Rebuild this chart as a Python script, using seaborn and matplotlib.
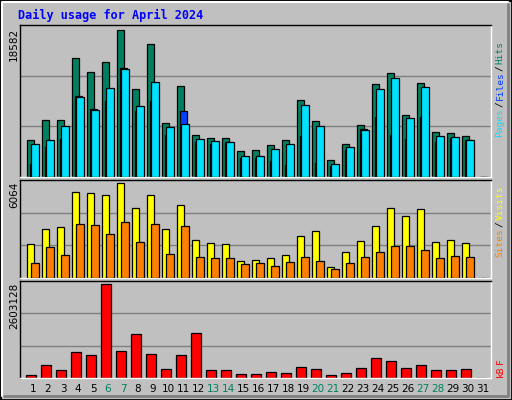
import matplotlib
matplotlib.use("Agg")
import matplotlib.pyplot as plt
import seaborn as sns
import numpy as np

days = list(range(1, 32))
hits = [4678,7206,7206,15044,13274,14538,18582,11125,16814,6827,11504,5310,4930,4930,3287,3413,4045,4678,9734,7080,2149,4172,6574,11757,13148,7838,11883,5689,5562,5183,0]
files = [4172,4678,6447,10114,8470,11251,13653,8976,12010,6321,6700,4804,4551,4425,2655,2655,3540,4172,9102,6447,1643,3793,5942,11125,12516,7459,11378,5183,5057,4678,0]
pages = [1643,3793,4804,10240,8597,9608,13780,8344,9608,5310,8344,4425,4172,4425,2402,2402,2023,1517,5183,1770,1391,3413,6068,7585,5310,4804,7585,4425,4930,4678,0]
visits = [2175,3164,3296,5537,5471,5339,6064,4482,5339,3164,4680,2439,2241,2175,1120,1186,1252,1450,2702,3032,725,1648,2373,3361,4482,3955,4416,2307,2439,2241,0]
sites = [989,1977,1450,3493,3427,2834,3559,2307,3493,1516,3361,1318,1252,1252,923,989,791,1055,1318,1120,593,989,1318,1648,2043,2043,1780,1252,1384,1318,0]
kbytes = [95005,351519,209011,722038,636534,2603128,750540,1235065,665035,237513,636534,1263567,209011,209011,123507,123507,180510,152008,294516,237513,95005,152008,266014,551029,465525,266014,351519,209011,209011,237513,0]
weekend = [6, 7, 13, 14, 20, 21, 27, 28]
title = "Daily usage for April 2024"

sns.set_theme(style="white")
plt.rcParams['font.family'] = ['DejaVu Sans Mono', 'DejaVu Sans']

BG = "#c0c0c0"
fig = plt.figure(figsize=(5.12, 4.0), dpi=100, facecolor=BG)
W, H = 512, 400

def px_axes(l, t, r, b):
    return fig.add_axes([l / W, 1 - b / H, (r - l) / W, (b - t) / H])

fig.patches.append(plt.Rectangle((0, 0), 1, 1, transform=fig.transFigure, fill=False,
                                 edgecolor="black", lw=2))
fig.add_artist(plt.Line2D([2/W, 2/W, 1-4/W], [4/H, 1-2/H, 1-2/H], transform=fig.transFigure, color="white", lw=1.5))
fig.add_artist(plt.Line2D([4/W, 1-4/W, 1-4/W], [4/H, 4/H, 1-4/H], transform=fig.transFigure, color="#808080", lw=2))

xmin, xmax = 0.133, 31.53
d = np.array(days, dtype=float)
ax1 = px_axes(20, 25, 491, 177)
ax2 = px_axes(20, 180, 491, 278)
ax3 = px_axes(20, 281, 491, 378)

def style(ax, maxv, label, ytop):
    ax.set_facecolor(BG)
    ax.set_xlim(xmin, xmax)
    top = maxv / 0.965
    ax.set_ylim(0, top)
    for f in (1/3, 2/3):
        ax.axhline(top * f, color="#808080", lw=1, zorder=0)
    ax.set_xticks([]); ax.set_yticks([])
    for s in ("left", "top"):
        ax.spines[s].set_color("black")
    for s in ("right", "bottom"):
        ax.spines[s].set_color("white")
    for s in ax.spines.values():
        s.set_linewidth(1)
    fig.text(14 / W, 1 - ytop / H, label, rotation=90, ha="center", va="top",
             fontsize=7.5, family="DejaVu Sans", color="black")

kw = dict(align="edge", edgecolor="black", linewidth=0.9)
style(ax1, max(hits), "18582", 28)
ax1.bar(d - 0.38, hits, width=0.47, color="#008060", zorder=2, **kw)
ax1.bar(d - 0.17, pages, width=0.45, color="#0040ff", zorder=3, **kw)
ax1.bar(d - 0.11, files, width=0.49, color="#00e0ff", zorder=4, **kw)

style(ax2, max(visits), "6064", 182)
ax2.bar(d - 0.38, visits, width=0.47, color="#ffff00", zorder=2, **kw)
ax2.bar(d - 0.11, sites, width=0.49, color="#ff8000", zorder=3, **kw)

style(ax3, max(kbytes), "2603128", 283)
ax3.bar(d - 0.48, kbytes, width=0.71, color="#ff0000", zorder=2, **kw)

for day in days:
    fig.text((20 + (day - xmin) * 15) / W, 1 - 389 / H, str(day), ha="center", va="center",
             fontsize=7.5, family="DejaVu Sans",
             color="#00805c" if day in weekend else "black")

fig.text(18 / W, 1 - 15 / H, title, ha="left", va="center", fontsize=8.5,
         fontweight="bold", color="#0000ff")

renderer = fig.canvas.get_renderer()

def side(parts, ybottom):
    y = ybottom
    for txt, col in parts:
        t = fig.text(500 / W, 1 - y / H, txt, rotation=90, ha="center", va="bottom",
                     fontsize=6.8, color=col)
        bb = t.get_window_extent(renderer)
        y -= bb.height + 1

side([("Pages", "#00e0ff"), ("/", "#000000"), ("Files", "#0040ff"), ("/", "#000000"), ("Hits", "#008060")], 137)
side([("Sites", "#ff8000"), ("/", "#000000"), ("Visits", "#ffff00")], 257)
side([("kB", "#ff0000"), ("F", "#ff0000")], 377)

fig.savefig("out.png", dpi=100, facecolor=BG)
